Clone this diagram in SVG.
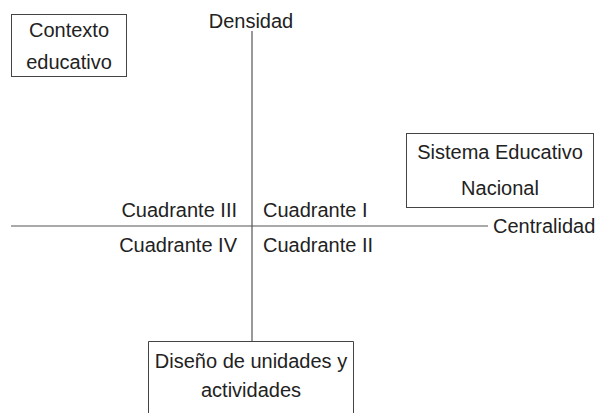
<svg xmlns="http://www.w3.org/2000/svg" width="600" height="413" viewBox="0 0 600 413">
<style>
text{font-family:"Liberation Sans",Arial,sans-serif;font-size:20px;fill:#222}
.box{fill:none;stroke:#444;stroke-width:1}
.ax{stroke:#555;stroke-width:1.2;fill:none}
</style>
<rect width="600" height="413" fill="#fff"/>
<g id="connectors">
<line class="ax" x1="252" y1="31" x2="252" y2="341"/>
<line class="ax" x1="11" y1="226" x2="488" y2="226"/>
</g>
<g id="densidad"><text x="251" y="28" text-anchor="middle">Densidad</text></g>
<g id="centralidad"><text x="493" y="233">Centralidad</text></g>
<g id="contexto">
<rect class="box" x="11.5" y="14.5" width="115" height="62"/>
<text x="69" y="37" text-anchor="middle">Contexto</text>
<text x="69" y="69" text-anchor="middle">educativo</text>
</g>
<g id="sistema">
<rect class="box" x="406.5" y="133.5" width="187" height="74"/>
<text x="500" y="159" text-anchor="middle">Sistema Educativo</text>
<text x="500" y="195" text-anchor="middle">Nacional</text>
</g>
<g id="diseno">
<path class="box" d="M148.5 413V341.5H353.5V413"/>
<text x="251" y="368" text-anchor="middle">Diseño de unidades y</text>
<text x="251" y="397" text-anchor="middle">actividades</text>
</g>
<g id="quadrants">
<text x="237" y="217" text-anchor="end">Cuadrante III</text>
<text x="263" y="217">Cuadrante I</text>
<text x="237" y="252" text-anchor="end">Cuadrante IV</text>
<text x="263" y="252">Cuadrante II</text>
</g>
</svg>
